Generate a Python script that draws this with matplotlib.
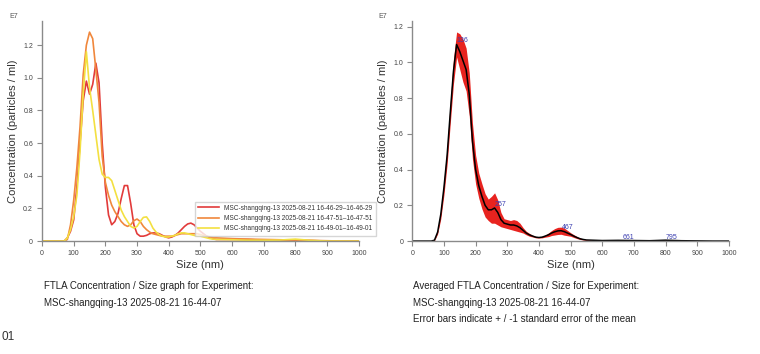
import numpy as np
import matplotlib
matplotlib.use('Agg')
import matplotlib.pyplot as plt

plt.rcParams['font.family'] = ['Liberation Sans', 'DejaVu Sans']

# size grid (nm)
size = [0, 50, 60, 70, 80, 90, 100, 110, 120, 130, 140, 150, 160, 170, 180, 190,
        200, 210, 220, 230, 240, 250, 260, 270, 280, 290, 300, 310, 320, 330,
        340, 350, 360, 370, 380, 390, 400, 410, 420, 430, 440, 450, 460, 470,
        480, 490, 500, 510, 520, 530, 540, 550, 600, 650, 700, 750, 800, 850,
        900, 950, 1000]

# individual runs (E7 particles / ml)
run1 = [0, 0, 0, 0, 0.02, 0.06, 0.13, 0.33, 0.6, 0.86, 0.98, 0.9, 0.96, 1.09, 0.97, 0.6,
        0.33, 0.16, 0.1, 0.12, 0.17, 0.26, 0.34, 0.34, 0.23, 0.1, 0.045, 0.03, 0.03, 0.035,
        0.045, 0.05, 0.05, 0.045, 0.035, 0.025, 0.02, 0.025, 0.035, 0.05, 0.07, 0.09, 0.105, 0.11,
        0.1, 0.08, 0.06, 0.045, 0.03, 0.02, 0.015, 0.01, 0.01, 0.01, 0.005, 0.005, 0.005, 0.003,
        0, 0, 0]
run2 = [0, 0, 0, 0, 0.01, 0.1, 0.25, 0.45, 0.7, 1.02, 1.2, 1.28, 1.24, 1.05, 0.85, 0.52,
        0.36, 0.28, 0.22, 0.18, 0.15, 0.12, 0.1, 0.09, 0.1, 0.125, 0.135, 0.12, 0.09, 0.07,
        0.055, 0.045, 0.04, 0.035, 0.03, 0.03, 0.03, 0.03, 0.035, 0.04, 0.045, 0.045, 0.045, 0.045,
        0.045, 0.045, 0.04, 0.035, 0.03, 0.025, 0.02, 0.02, 0.015, 0.012, 0.01, 0.008, 0.006, 0.004,
        0.002, 0, 0]
run3 = [0, 0, 0, 0, 0.02, 0.07, 0.15, 0.28, 0.55, 0.9, 1.16, 0.94, 0.8, 0.65, 0.5, 0.41,
        0.39, 0.39, 0.37, 0.31, 0.25, 0.19, 0.15, 0.12, 0.09, 0.08, 0.09, 0.12, 0.145, 0.148,
        0.12, 0.08, 0.055, 0.04, 0.03, 0.025, 0.025, 0.03, 0.035, 0.045, 0.05, 0.05, 0.045, 0.04,
        0.035, 0.03, 0.03, 0.025, 0.02, 0.015, 0.012, 0.01, 0.008, 0.005, 0.005, 0.006, 0.012, 0.004,
        0, 0, 0]
run_labels = ['MSC-shangqing-13 2025-08-21 16-46-29\u201316-46-29',
              'MSC-shangqing-13 2025-08-21 16-47-51\u201316-47-51',
              'MSC-shangqing-13 2025-08-21 16-49-01\u201316-49-01']

# averaged curve and standard error
mean = [0, 0, 0, 0.005, 0.05, 0.15, 0.3, 0.48, 0.72, 0.95, 1.1, 1.06, 1.01, 0.96, 0.82, 0.56,
        0.4, 0.31, 0.25, 0.2, 0.175, 0.175, 0.185, 0.16, 0.12, 0.1, 0.095, 0.09, 0.09, 0.085,
        0.075, 0.06, 0.045, 0.035, 0.028, 0.022, 0.02, 0.022, 0.028, 0.035, 0.045, 0.052, 0.057, 0.058,
        0.053, 0.045, 0.037, 0.028, 0.02, 0.013, 0.009, 0.006, 0.003, 0.004, 0.003, 0.002, 0.005, 0.002,
        0.001, 0, 0]
sem = [0, 0, 0, 0.003, 0.01, 0.025, 0.04, 0.05, 0.06, 0.07, 0.07, 0.1, 0.12, 0.12, 0.12, 0.1,
       0.08, 0.07, 0.07, 0.065, 0.06, 0.075, 0.085, 0.07, 0.04, 0.025, 0.025, 0.025, 0.03, 0.03,
       0.025, 0.015, 0.01, 0.008, 0.005, 0.004, 0.003, 0.004, 0.006, 0.01, 0.014, 0.018, 0.02, 0.02,
       0.02, 0.015, 0.01, 0.008, 0.006, 0.004, 0.003, 0.003, 0.002, 0.002, 0.002, 0.002, 0.002, 0.002,
       0.001, 0, 0]

peak_sizes = [136, 257, 467, 661, 795]
peak_heights = [1.12, 0.207, 0.078, 0.019, 0.019]

run_colors = ['#e23b3b', '#f0873c', '#f3e041']
spine_col = '#8a8a8a'

fig = plt.figure(figsize=(7.6, 3.54), dpi=100)
ax1 = fig.add_axes([0.0553, 0.319, 0.4167, 0.6225])
ax2 = fig.add_axes([0.5425, 0.319, 0.4165, 0.6225])


def style(ax, ytop):
    ax.set_xlim(0, 1000)
    ax.set_ylim(0, ytop)
    ax.set_xticks(range(0, 1001, 100))
    ax.set_yticks([0, 0.2, 0.4, 0.6, 0.8, 1.0, 1.2])
    ax.set_yticklabels(['0', '0.2', '0.4', '0.6', '0.8', '1.0', '1.2'])
    for s in ['top', 'right']:
        ax.spines[s].set_visible(False)
    for s in ['left', 'bottom']:
        ax.spines[s].set_color(spine_col)
        ax.spines[s].set_linewidth(1.0)
    ax.tick_params(colors=spine_col, labelcolor='#444444', labelsize=5,
                   length=3.5, width=0.8, pad=3)
    ax.set_xlabel('Size (nm)', fontsize=8, color='#333333', labelpad=2)
    ax.set_ylabel('Concentration (particles / ml)', fontsize=8, color='#333333', labelpad=4)


style(ax1, 1.35)
for vals, c, lab in zip([run1, run2, run3], run_colors, run_labels):
    ax1.plot(size, vals, color=c, lw=1.2, label=lab)
ax1.legend(loc='upper left', bbox_to_anchor=(0.252, 0.44), bbox_transform=fig.transFigure,
           fontsize=4.7, frameon=True, fancybox=False, edgecolor='#cccccc',
           handlelength=3.2, labelspacing=0.5, borderpad=0.5, handletextpad=0.8,
           labelcolor='#333333')

style(ax2, 1.233)
lo = np.array(mean) - np.array(sem)
hi = np.array(mean) + np.array(sem)
ax2.fill_between(size, lo, hi, color='#e8231f', lw=0)
ax2.plot(size, mean, color='black', lw=1.1)
for px, py in zip(peak_sizes, peak_heights):
    ax2.text(px + 4, py, str(px), fontsize=5, color='#3a3db0', ha='left', va='center', zorder=5)

fig.text(9 / 760, 1 - 16 / 354, 'E7', fontsize=5, color='#555555', va='center')
fig.text(378 / 760, 1 - 16 / 354, 'E7', fontsize=5, color='#555555', va='center')

fig.text(44 / 760, 1 - 286 / 354, 'FTLA Concentration / Size graph for Experiment:',
         fontsize=7, color='#222222', va='center')
fig.text(44 / 760, 1 - 303 / 354, 'MSC-shangqing-13 2025-08-21 16-44-07',
         fontsize=7, color='#222222', va='center')
fig.text(413 / 760, 1 - 286 / 354, 'Averaged FTLA Concentration / Size for Experiment:',
         fontsize=7, color='#222222', va='center')
fig.text(413 / 760, 1 - 303 / 354, 'MSC-shangqing-13 2025-08-21 16-44-07',
         fontsize=7, color='#222222', va='center')
fig.text(413 / 760, 1 - 319 / 354, 'Error bars indicate + / -1 standard error of the mean',
         fontsize=7, color='#222222', va='center')
fig.text(2 / 760, 1 - 337 / 354, '01', fontsize=8.5, color='#333333', va='center')

fig.savefig('out.png', dpi=100)
